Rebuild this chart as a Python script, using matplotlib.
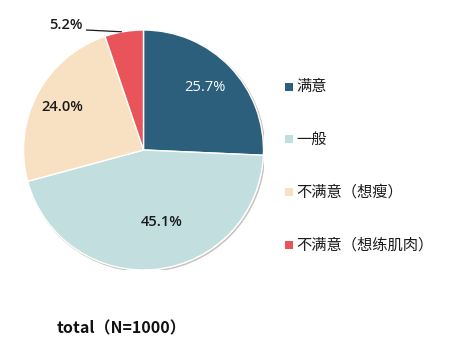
import numpy as np
import matplotlib
matplotlib.use('Agg')
import matplotlib.pyplot as plt

plt.rcParams['font.family'] = ['Noto Sans CJK SC', 'DejaVu Sans']

labels = ['满意', '一般', '不满意（想瘦）', '不满意（想练肌肉）']
values = [25.7, 45.1, 24.0, 5.2]
colors = ['#2b5f7b', '#c2dede', '#f8e1c2', '#e9545b']
pct_colors = ['white', '#1a1a1a', '#1a1a1a', '#1a1a1a']
pct_weights = ['normal', 600, 600, 600]
title = 'total（N=1000）'

# where each percentage label sits (in pie radius units)
pct_pos = [(0.515, 0.52), (0.155, -0.60), (-0.68, 0.36), (-0.65, 1.04)]

fig = plt.figure(figsize=(4.5, 3.59), dpi=100)
ax = fig.add_axes([23.5 / 450, (359 - 270) / 359, 240 / 450, 240 / 359])

# faint rim like the soft shadow round the original pie
ax.add_patch(plt.Circle((0.01, -0.01), 1.0, facecolor='none',
                        edgecolor='#c9c3c0', lw=1.2, zorder=0))
wedges, _ = ax.pie(values, colors=colors, startangle=90, counterclock=False,
                   radius=1.0,
                   wedgeprops=dict(edgecolor='white', linewidth=1.0))
ax.set_xlim(-1, 1)
ax.set_ylim(-1, 1)
ax.set_aspect('equal')
ax.axis('off')

for v, (x, y), c, w in zip(values, pct_pos, pct_colors, pct_weights):
    ax.text(x, y, f'{v:.1f}%', ha='center', va='center', fontsize=10.5,
            fontweight=w, color=c, family=['Open Sans', 'DejaVu Sans'])

# leader line for the small slice
ax.plot([-0.48, -0.18], [1.0, 0.985], color='#1a1a1a', lw=0.9,
        solid_capstyle='butt', clip_on=False)

# legend
leg_y = [87, 139, 192, 245]
for lab, c, y in zip(labels, colors, leg_y):
    fig.patches.append(plt.Rectangle((285 / 450, 1 - (y + 4) / 359), 8 / 450, 8 / 359,
                                     transform=fig.transFigure, facecolor=c,
                                     edgecolor='none'))
    fig.text(296 / 450, 1 - y / 359, lab, ha='left', va='center',
             fontsize=11, fontweight='medium', color='#1a1a1a')

fig.text(57 / 450, 1 - 328 / 359, title, ha='left', va='center',
         fontsize=11.5, fontweight='bold', color='#111111')

fig.savefig('out.png', dpi=100, facecolor='white')
